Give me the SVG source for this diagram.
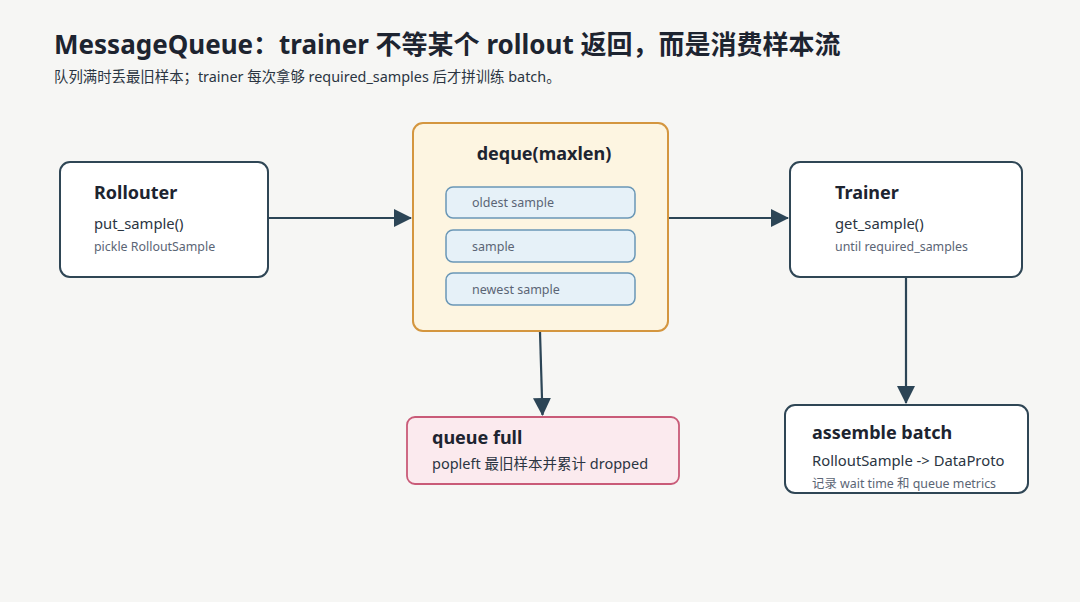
<svg xmlns="http://www.w3.org/2000/svg" width="1080" height="602" viewBox="0 0 1080 602">
<defs>
<marker id="ah" markerWidth="18" markerHeight="18" refX="17" refY="9" orient="auto" markerUnits="userSpaceOnUse" viewBox="0 0 18 18">
<path d="M0,0 L18,9 L0,18 z" fill="#2c4556"/>
</marker>
<style>
text{font-family:"Noto Sans","Noto Sans CJK SC",sans-serif;}
.h{font-size:18px;font-weight:bold;fill:#1d2430;}
.m{font-size:14.8px;fill:#2b3542;}
.s{font-size:12.4px;fill:#5b6575;}
.slot{fill:#e6f1f8;stroke:#6a97b6;stroke-width:1.5;}
.slt{font-size:12.5px;fill:#5b6575;}
.node{fill:#ffffff;stroke:#2f4655;stroke-width:2;}
.edge{stroke:#2c4556;stroke-width:2.2;fill:none;marker-end:url(#ah);}
</style>
</defs>
<rect width="1080" height="602" fill="#f6f6f4"/>
<text x="54" y="54" style="font-size:26px;font-weight:bold;fill:#1d2430">MessageQueue：trainer 不等某个 rollout 返回，而是消费样本流</text>
<text x="54" y="82" style="font-size:14.4px;fill:#2b3542">队列满时丢最旧样本；trainer 每次拿够 required_samples 后才拼训练 batch。</text>
<g id="connectors">
<line class="edge" x1="269" y1="218" x2="411" y2="218"/>
<line class="edge" x1="668" y1="218" x2="788" y2="218"/>
<line class="edge" x1="906" y1="277" x2="906" y2="403"/>
<line class="edge" x1="540" y1="332" x2="542.5" y2="415"/>
</g>
<g id="rollouter">
<rect class="node" x="60" y="162" width="208" height="115" rx="10"/>
<text class="h" x="94" y="199">Rollouter</text>
<text class="m" x="94" y="229">put_sample()</text>
<text class="s" x="94" y="251">pickle RolloutSample</text>
</g>
<g id="deque">
<rect x="413" y="123" width="255" height="208" rx="10" fill="#fdf5e1" stroke="#d4963f" stroke-width="2"/>
<text class="h" x="544" y="160" text-anchor="middle">deque(maxlen)</text>
<g id="slot-oldest"><rect class="slot" x="446" y="187" width="189" height="31" rx="7"/><text class="slt" x="472" y="207">oldest sample</text></g>
<g id="slot-sample"><rect class="slot" x="446" y="230" width="189" height="32" rx="7"/><text class="slt" x="472" y="251">sample</text></g>
<g id="slot-newest"><rect class="slot" x="446" y="273" width="189" height="32" rx="7"/><text class="slt" x="472" y="294">newest sample</text></g>
</g>
<g id="trainer">
<rect class="node" x="790" y="162" width="232" height="115" rx="10"/>
<text class="h" x="835" y="199">Trainer</text>
<text class="m" x="835" y="229">get_sample()</text>
<text class="s" x="835" y="251">until required_samples</text>
</g>
<g id="queue-full">
<rect x="407" y="417" width="272" height="67" rx="8" fill="#fbeaee" stroke="#c95b78" stroke-width="1.8"/>
<text class="h" x="432" y="444">queue full</text>
<text class="m" x="432" y="469" style="font-size:14.5px">popleft 最旧样本并累计 dropped</text>
</g>
<g id="assemble">
<rect class="node" x="785" y="405" width="243" height="88" rx="10"/>
<text class="h" x="812" y="439">assemble batch</text>
<text class="m" x="812" y="466">RolloutSample -&gt; DataProto</text>
<text class="s" x="812" y="488">记录 wait time 和 queue metrics</text>
</g>
</svg>
